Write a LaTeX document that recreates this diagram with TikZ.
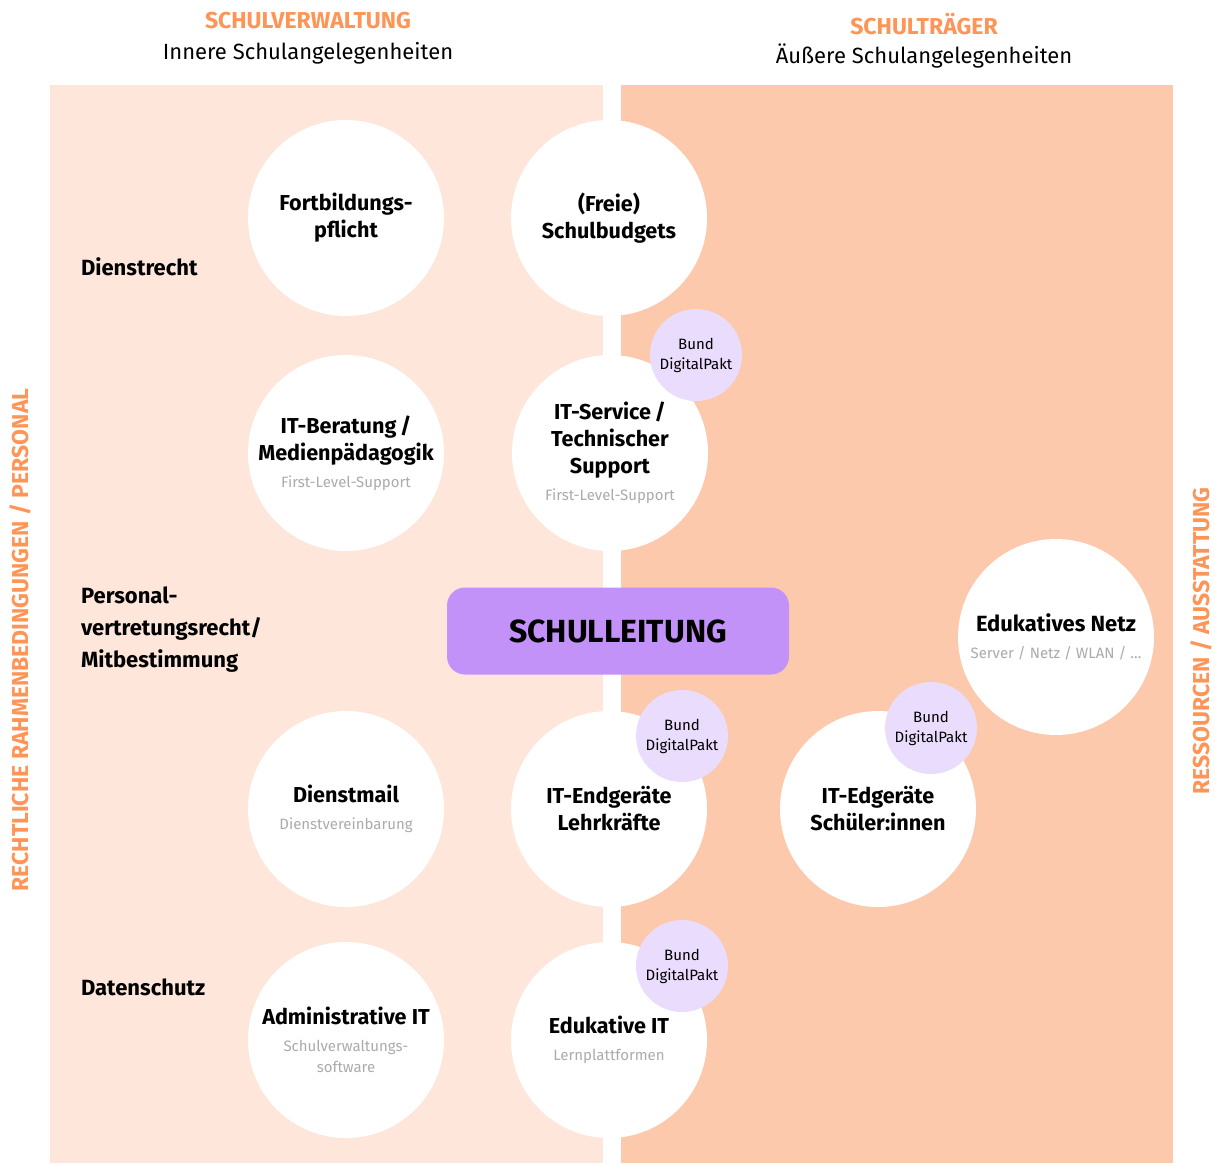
\documentclass[tikz,border=0pt]{standalone}
\usepackage{fontspec}
\setmainfont{Fira Sans}
\usetikzlibrary{positioning}

\definecolor{hellpfirsich}{HTML}{FEE6DA}
\definecolor{pfirsich}{HTML}{FDC9AD}
\definecolor{schulorange}{HTML}{FF9457}
\definecolor{lila}{HTML}{C292F8}
\definecolor{helllila}{HTML}{EADCFC}
\definecolor{grautext}{HTML}{ABABAB}

\tikzset{
  kreis/.style={circle,fill=white,minimum size=98pt,inner sep=0pt,align=center,
    font=\bfseries\fontsize{10.8}{13.5}\selectfont},
  bund/.style={circle,fill=helllila,minimum size=46pt,inner sep=0pt,align=center,
    font=\fontsize{7.5}{10}\selectfont},
  seite/.style={text=schulorange,font=\bfseries\fontsize{11.5}{13}\selectfont},
  thema/.style={anchor=west,align=left,font=\bfseries\fontsize{11}{16}\selectfont}
}
\newcommand\unter[1]{{\mdseries\fontsize{7.5}{9.6}\selectfont\color{grautext}#1}}

\begin{document}
\begin{tikzpicture}[x=0.5pt,y=-0.5pt]
  \useasboundingbox (0,0) rectangle (1215,1164);
  % Hintergrundflaechen
  \fill[hellpfirsich] (50,85) rectangle (603,1163);
  \fill[pfirsich] (621,85) rectangle (1173,1163);

  % Kopfzeilen
  \node[seite] (verwaltung) at (308,21) {SCHULVERWALTUNG};
  \node[font=\fontsize{11}{13}\selectfont] (innere) at (308,53) {Innere Schulangelegenheiten};
  \node[seite] (traeger) at (924,24) {SCHULTRÄGER};
  \node[font=\fontsize{11}{13}\selectfont] (aeussere) at (924,56) {Äußere Schulangelegenheiten};

  % seitliche Beschriftung
  \node[seite,rotate=90] (recht) at (20,640) {RECHTLICHE RAHMENBEDINGUNGEN / PERSONAL};
  \node[seite,rotate=90] (ressourcen) at (1201,641) {RESSOURCEN / AUSSTATTUNG};

  % Themen links
  \node[thema] (dienstrecht) at (74,267) {Dienstrecht};
  \node[thema] (personal) at (74,630) {Personal-\\vertretungsrecht/\\Mitbestimmung};
  \node[thema] (datenschutz) at (74,987) {Datenschutz};

  % Kreise
  \node[kreis] (fortbildung) at (346,218) {Fortbildungs-\\pflicht};
  \node[kreis] (budget) at (609,218) {(Freie)\\Schulbudgets};
  \node[kreis] (beratung) at (346,453) {IT-Beratung\,/\\Medienpädagogik\\\unter{First-Level-Support}};
  \node[kreis] (service) at (610,453) {IT-Service\,/\\Technischer\\Support\\\unter{First-Level-Support}};
  \node[kreis] (dienstmail) at (346,809) {Dienstmail\\\unter{Dienstvereinbarung}};
  \node[kreis] (lehrkraefte) at (609,809) {IT-Endgeräte\\Lehrkräfte};
  \node[kreis] (verwaltungsit) at (346,1040) {Administrative IT\\\unter{Schulverwaltungs-}\\[-3pt]\unter{software}};
  \node[kreis] (edukativ) at (609,1040) {Edukative IT\\\unter{Lernplattformen}};
  \node[kreis,font=\bfseries\fontsize{11}{13.5}\selectfont] (netz) at (1056,637) {Edukatives Netz\\\unter{Server / Netz / WLAN / \dots}};
  \node[kreis] (schueler) at (878,809) {IT-Edgeräte\\Schüler:innen};

  % DigitalPakt
  \node[bund] (bund1) at (696,355) {Bund\\DigitalPakt};
  \node[bund] (bund2) at (682,736) {Bund\\DigitalPakt};
  \node[bund] (bund3) at (931,728) {Bund\\DigitalPakt};
  \node[bund] (bund4) at (682,966) {Bund\\DigitalPakt};

  % Mitte
  \node[fill=lila,rounded corners=9pt,minimum width=171pt,minimum height=43.5pt,
    font=\bfseries\fontsize{16}{18}\selectfont] (leitung) at (618,631) {SCHULLEITUNG};
\end{tikzpicture}
\end{document}
